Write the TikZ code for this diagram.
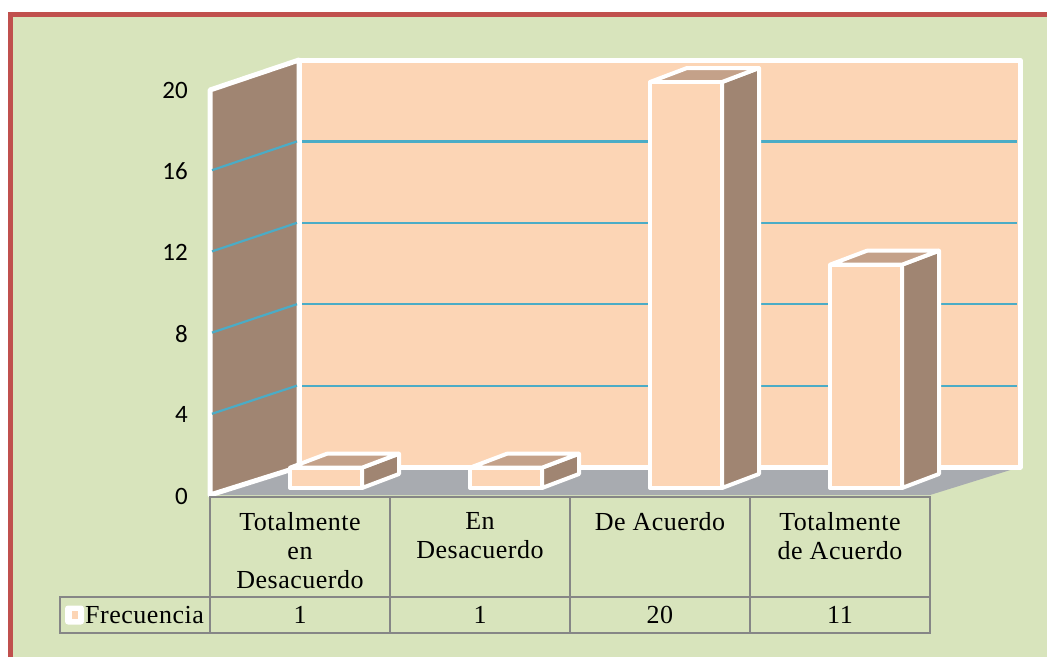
\documentclass[tikz,border=0pt]{standalone}
\usepackage{fontspec}
\setmainfont{Liberation Serif}
\newfontfamily\axisfont{Carlito}
\usetikzlibrary{positioning}
\definecolor{chartgreen}{RGB}{216,228,188}
\definecolor{framered}{RGB}{192,80,77}
\definecolor{wallpeach}{RGB}{252,213,181}
\definecolor{wallbrown}{RGB}{160,133,114}
\definecolor{bartop}{RGB}{196,161,137}
\definecolor{floorgrey}{RGB}{168,171,176}
\definecolor{gridblue}{RGB}{75,172,198}
\definecolor{tablegrey}{RGB}{134,134,134}
\begin{document}
\begin{tikzpicture}[x=1pt,y=-1pt,
	wall/.style={draw=white,line width=5pt,line join=round},
	gridline/.style={gridblue,line width=2.2pt},
	barface/.style={draw=white,line width=4pt,line join=round},
	cell/.style={draw=tablegrey,line width=2pt,minimum width=180pt,inner sep=0pt,
		font=\fontsize{26}{29}\selectfont\addfontfeature{LetterSpace=2}},
	cat/.style={align=center,inner sep=0pt,
		font=\fontsize{26}{29}\selectfont\addfontfeature{LetterSpace=2}},
	tick/.style={anchor=east,inner sep=0pt,font=\axisfont\fontsize{25}{29}\selectfont}]
\useasboundingbox (0,0) rectangle (1047,657);
\fill[white] (0,0) rectangle (1047,657);
\fill[chartgreen] (10,14.5) rectangle (1047,657);
\draw[framered,line width=5pt] (10,657) -- (10,14.5) -- (1047,14.5);

\fill[floorgrey] (210,495) -- (299,467) -- (1020,467) -- (930,495) -- cycle;
\draw[wall,fill=wallpeach] (299,60) rectangle (1020,467);
\draw[wall,fill=wallbrown] (210,90) -- (299,60) -- (299,467) -- (210,495) -- cycle;
\foreach \v in {4,8,12,16} {
	\draw[gridline] (212,{495-20.3*\v}) -- (297,{467-20.35*\v});
	\draw[gridline] (302,{467-20.35*\v}) -- (1017,{467-20.35*\v});
}

\foreach \cx/\v in {326/1,506/1,686/20,866/11} {
	\pgfmathsetmacro\bary{488-20.3*\v}
	\draw[barface,fill=wallbrown] (\cx+36,488) -- (\cx+73,474) -- (\cx+73,\bary-14) -- (\cx+36,\bary) -- cycle;
	\draw[barface,fill=bartop] (\cx-36,\bary) -- (\cx+1,\bary-14) -- (\cx+73,\bary-14) -- (\cx+36,\bary) -- cycle;
	\draw[barface,fill=wallpeach] (\cx-36,\bary) rectangle (\cx+36,488);
}

\foreach \v in {0,4,...,20}
	\node[tick] (t\v) at (188,{496-20.3*\v}) {\v};

\node[cell,minimum height=100pt] (c1) at (300,547) {};
\node[cell,minimum height=100pt] (c2) at (480,547) {};
\node[cell,minimum height=100pt] (c3) at (660,547) {};
\node[cell,minimum height=100pt] (c4) at (840,547) {};
\node[cat,below=16pt of c1.north] (c1txt) {Totalmente\\en\\Desacuerdo};
\node[cat,below=16pt of c2.north] (c2txt) {En\\Desacuerdo};
\node[cat,below=16pt of c3.north] (c3txt) {De Acuerdo};
\node[cat,below=16pt of c4.north] (c4txt) {Totalmente\\de Acuerdo};

\node[cell,minimum width=150pt,minimum height=36pt] (leg) at (135,615) {};
\node[cell,minimum height=36pt] (v1) at (300,615) {1};
\node[cell,minimum height=36pt] (v2) at (480,615) {1};
\node[cell,minimum height=36pt] (v3) at (660,615) {20};
\node[cell,minimum height=36pt] (v4) at (840,615) {11};
\node[fill=white,rounded corners=3pt,minimum size=19pt,inner sep=0pt] (mark) at (74.5,615) {};
\node[fill=wallpeach,minimum width=6pt,minimum height=8pt,inner sep=0pt] (markin) at (mark) {};
\node[cat,anchor=west,right=26pt of leg.west] (legtxt) {Frecuencia};
\end{tikzpicture}
\end{document}
